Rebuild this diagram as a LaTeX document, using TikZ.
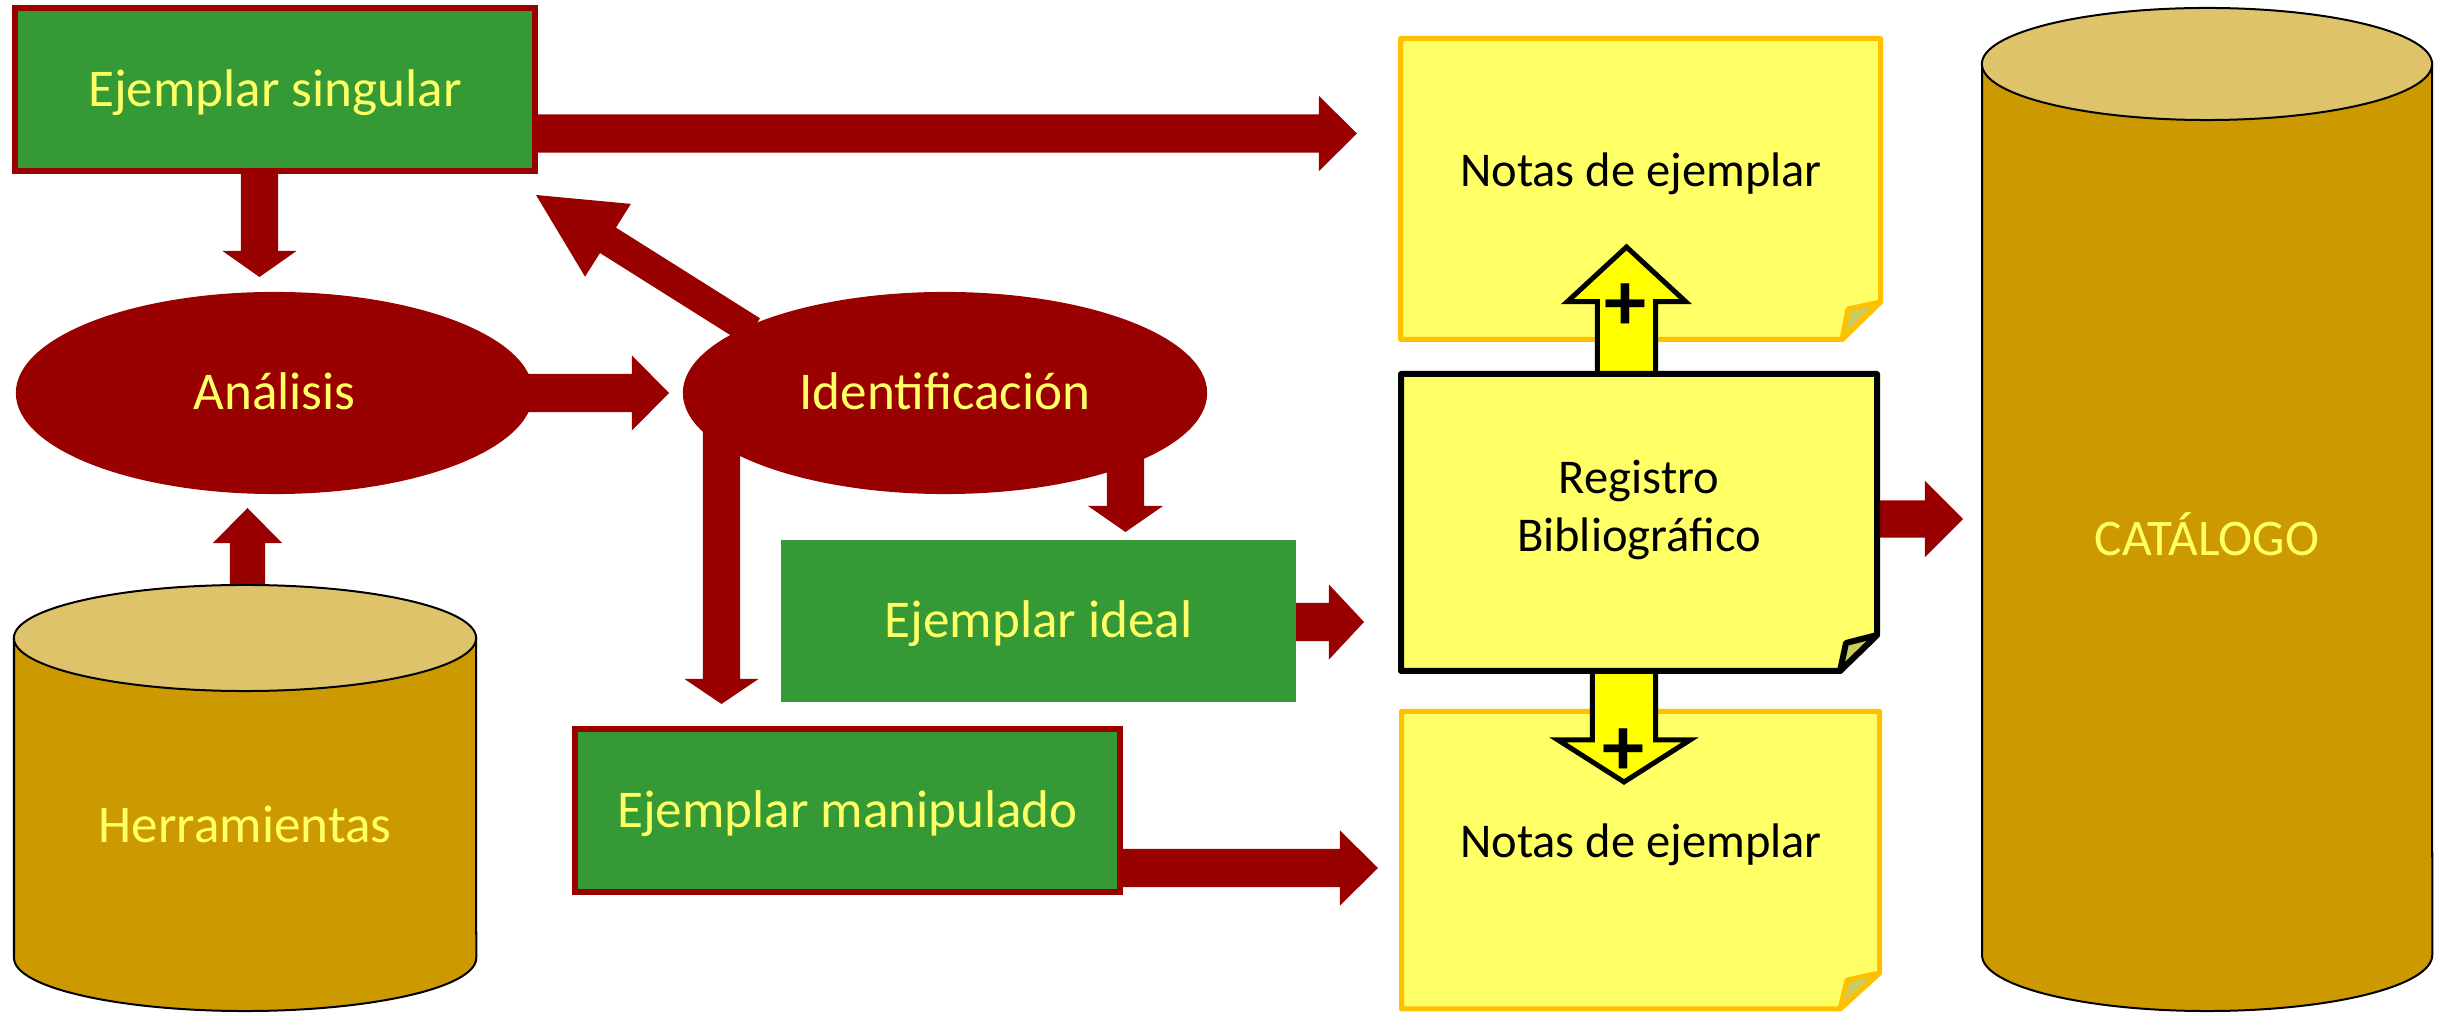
\documentclass[tikz,border=0pt]{standalone}
\usepackage{fontspec}
\setmainfont{Carlito}
\usetikzlibrary{calc,shapes.geometric}
\definecolor{dred}{HTML}{990000}
\definecolor{egreen}{HTML}{359A35}
\definecolor{ytext}{HTML}{FFFF66}
\definecolor{notefill}{HTML}{FFFF66}
\definecolor{noteline}{HTML}{FFC000}
\definecolor{foldfill}{HTML}{CCCC5C}
\definecolor{yarrow}{HTML}{FFFF00}
\definecolor{cylbody}{HTML}{CC9900}
\definecolor{cyltop}{HTML}{DFC36B}
\pgfdeclarelayer{bg}
\pgfsetlayers{bg,main}
\newcommand\blockarrow[6]{%
  \coordinate (hb) at ($(#3)!#6!(#2)$);
  \path[#1] ($(#2)!#4!90:(#3)$) -- ($(hb)!#4!90:(#3)$) -- ($(hb)!#5!90:(#3)$) -- (#3)
     -- ($(hb)!#5!-90:(#3)$) -- ($(hb)!#4!-90:(#3)$) -- ($(#2)!#4!-90:(#3)$) -- cycle;
}
\tikzset{
  ytxt/.style={text=ytext, font=\fontsize{15.1}{18}\selectfont, text height=9.5pt, text depth=0pt, inner sep=0pt},
  gbox/.style={rectangle, fill=egreen, ytxt},
  redframe/.style={draw=dred, line width=0.06cm},
  ovalnode/.style={ellipse, fill=dred, ytxt},
  btxt/.style={text=black, font=\fontsize{13.8}{16.5}\selectfont, inner sep=0pt},
  holder/.style={rectangle, inner sep=0pt},
  redarrow/.style={fill=dred},
  yelarrow/.style={fill=yarrow, draw=black, line width=0.05cm, line join=miter},
  plussign/.style={font=\fontsize{24}{24}\selectfont\bfseries, text=black, inner sep=0pt},
  notebox/.style={fill=notefill, draw=noteline, line width=0.05cm, line join=round},
  foldbox/.style={fill=foldfill, draw=noteline, line width=0.05cm, line join=round},
  regbox/.style={fill=notefill, draw=black, line width=0.06cm, line join=round},
  regfold/.style={fill=foldfill, draw=black, line width=0.06cm, line join=round},
  cylside/.style={fill=cylbody, draw=black, line width=0.02cm},
  cyllid/.style={fill=cyltop, draw=black, line width=0.02cm},
}
\begin{document}
\begin{tikzpicture}[x=0.01cm, y=-0.01cm]
\useasboundingbox (0,0) rectangle (2438,1013);

% --- cylinders
\node[holder, minimum width=4.62cm, minimum height=4.26cm] (her) at (245,798) {};
\draw[cylside] (14,638) -- (14,958) arc[start angle=180, end angle=360, x radius=2.31cm, y radius=0.53cm] -- (476,638) -- cycle;
\draw[cyllid] (245,638) ellipse[x radius=2.31cm, y radius=0.53cm];
\node[ytxt] (herl) at (245,826) {Herramientas};

\node[holder, minimum width=4.5cm, minimum height=10.03cm] (cat) at (2207,509.5) {};
\draw[cylside] (1982,64) -- (1982,955) arc[start angle=180, end angle=360, x radius=2.25cm, y radius=0.56cm] -- (2432,64) -- cycle;
\draw[cyllid] (2207,64) ellipse[x radius=2.25cm, y radius=0.56cm];
\node[ytxt, font=\fontsize{14.6}{17}\selectfont, text height=9.2pt] (catl) at (2207,539) {CATÁLOGO};

% --- green boxes
\node[gbox, redframe, minimum width=5.2cm, minimum height=1.63cm] (es) at (275,89.5) {Ejemplar singular};
\node[gbox, redframe, minimum width=5.45cm, minimum height=1.63cm] (em) at (847.5,810.5) {Ejemplar manipulado};
\node[gbox, minimum width=5.15cm, minimum height=1.62cm] (ei) at (1038.5,621) {Ejemplar ideal};

% --- ellipses
\node[ovalnode, minimum width=5.17cm, minimum height=2.02cm] (an) at (274.5,393) {Análisis};
\node[ovalnode, minimum width=5.24cm, minimum height=2.02cm] (id) at (945,393) {Identificación};

% --- notes
\node[holder, minimum width=4.85cm, minimum height=3.06cm] (n1) at (1640.5,189) {};
\draw[notebox] (1400.5,38.5) -- (1880.5,38.5) -- (1880.5,302) -- (1842,339.5) -- (1400.5,339.5) -- cycle;
\draw[foldbox] (1880.5,302) -- (1848,309) -- (1842,339.5) -- cycle;
\node[btxt, anchor=base] (n1l) at (1641,187) {Notas de ejemplar};

\node[holder, minimum width=4.83cm, minimum height=3.02cm] (n2) at (1640.5,860) {};
\draw[notebox] (1401.5,711.5) -- (1879.5,711.5) -- (1879.5,973) -- (1840,1009) -- (1401.5,1009) -- cycle;
\draw[foldbox] (1879.5,973) -- (1847,980) -- (1840,1009) -- cycle;
\node[btxt, anchor=base] (n2l) at (1641,858) {Notas de ejemplar};

% --- registro
\node[holder, minimum width=4.82cm, minimum height=3.03cm] (reg) at (1639,522.5) {};

% yellow arrows (under the registro box)
\coordinate (y1e) at (1626.5,247);
\coordinate (y1s) at (reg.center -| y1e);
\blockarrow{yelarrow}{y1s}{y1e}{0.29cm}{0.59cm}{0.545cm}
\coordinate (y2e) at (1624,782);
\coordinate (y2s) at (reg.center -| y2e);
\blockarrow{yelarrow}{y2s}{y2e}{0.315cm}{0.66cm}{0.42cm}

\draw[regbox] (1401,374) -- (1877,374) -- (1877,635) -- (1840,671) -- (1401,671) -- cycle;
\draw[regfold] (1877,635) -- (1846,643) -- (1840,671) -- cycle;
\node[btxt, align=center] (regl) at (1639,509.5) {Registro\\Bibliográfico};

\node[plussign] (p1) at (1626,307) {+};
\node[plussign] (p2) at (1624,752) {+};

% --- red block arrows
\begin{pgfonlayer}{bg}
\coordinate (a1e) at (259.5,277);
\coordinate (a1s) at (es.center -| a1e);
\blockarrow{redarrow}{a1s}{a1e}{0.185cm}{0.37cm}{0.26cm}
\coordinate (a2e) at (1357,133.5);
\coordinate (a2s) at (es.center |- a2e);
\blockarrow{redarrow}{a2s}{a2e}{0.19cm}{0.375cm}{0.38cm}
\coordinate (a3s) at (752,331);
\coordinate (a3e) at (536,195);
\blockarrow{redarrow}{a3s}{a3e}{0.15cm}{0.43cm}{0.85cm}
\coordinate (a4e) at (669,393);
\blockarrow{redarrow}{an.center}{a4e}{0.19cm}{0.375cm}{0.37cm}
\coordinate (a5e) at (247.5,508);
\coordinate (a5s) at (her.center -| a5e);
\blockarrow{redarrow}{a5s}{a5e}{0.175cm}{0.345cm}{0.35cm}
\coordinate (a6e) at (721.5,704);
\coordinate (a6s) at (id.center -| a6e);
\blockarrow{redarrow}{a6s}{a6e}{0.185cm}{0.37cm}{0.25cm}
\coordinate (a7e) at (1125.5,532);
\coordinate (a7s) at (id.center -| a7e);
\blockarrow{redarrow}{a7s}{a7e}{0.185cm}{0.375cm}{0.26cm}
\coordinate (a8e) at (1364,622);
\coordinate (a8s) at (ei.center |- a8e);
\blockarrow{redarrow}{a8s}{a8e}{0.19cm}{0.375cm}{0.35cm}
\coordinate (a9e) at (1378,868);
\coordinate (a9s) at (em.center |- a9e);
\blockarrow{redarrow}{a9s}{a9e}{0.19cm}{0.375cm}{0.38cm}
\coordinate (a10e) at (1963,519);
\coordinate (a10s) at (reg.center |- a10e);
\blockarrow{redarrow}{a10s}{a10e}{0.185cm}{0.38cm}{0.38cm}
\end{pgfonlayer}
\end{tikzpicture}
\end{document}
